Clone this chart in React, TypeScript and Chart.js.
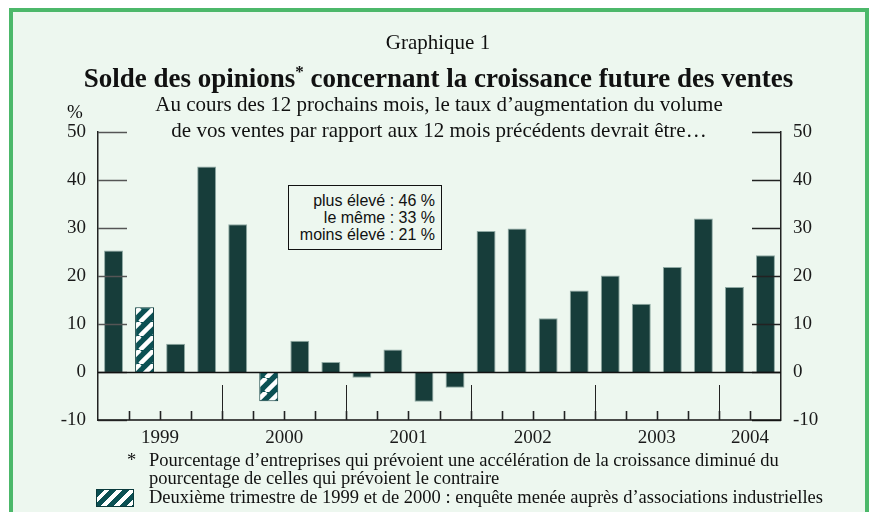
import React, { useEffect, useRef } from "react";
import { Chart, registerables } from "chart.js";

Chart.register(...registerables);

const quarters = [
  "1999 T1", "1999 T2", "1999 T3", "1999 T4",
  "2000 T1", "2000 T2", "2000 T3", "2000 T4",
  "2001 T1", "2001 T2", "2001 T3", "2001 T4",
  "2002 T1", "2002 T2", "2002 T3", "2002 T4",
  "2003 T1", "2003 T2", "2003 T3", "2003 T4",
  "2004 T1", "2004 T2",
];
const values = [
  25.3, 13.5, 5.9, 42.8,
  30.8, -6.1, 6.5, 2.1,
  -1.2, 4.7, -6.2, -3.3,
  29.4, 29.9, 11.2, 17.0,
  20.1, 14.2, 21.9, 32.0,
  17.7, 24.3,
];
const hatchedQuarters = ["1999 T2", "2000 T2"];
const years = ["1999", "2000", "2001", "2002", "2003", "2004"];
const yMin = -10;
const yMax = 50;
const yStep = 10;

const insetLines = ["plus élevé : 46 %", "le même : 33 %", "moins élevé : 21 %"];

const BAR = "#173d3a";
const HATCH = "#0b5053";
const BG = "#edf7ef";
const FRAME = "#4cb86a";
const SERIF = "'Liberation Serif', 'Times New Roman', serif";

function makePattern(ctx: CanvasRenderingContext2D) {
  const c = document.createElement("canvas");
  const s = 14;
  c.width = s;
  c.height = s;
  const g = c.getContext("2d")!;
  g.fillStyle = HATCH;
  g.fillRect(0, 0, s, s);
  g.strokeStyle = "#ffffff";
  g.lineWidth = 4.5;
  for (const o of [-s, 0, s]) {
    g.beginPath();
    g.moveTo(o, s);
    g.lineTo(o + s, 0);
    g.stroke();
  }
  return ctx.createPattern(c, "repeat");
}

const decorPlugin = {
  id: "decor",
  afterDatasetsDraw(chart: any) {
    const { ctx, chartArea } = chart;
    const x = chart.scales.x;
    const y = chart.scales.y;
    const L = chartArea.left;
    const R = chartArea.right;
    const bottom = y.getPixelForValue(yMin);
    ctx.save();
    // inward ticks
    for (let v = yMin; v <= yMax; v += yStep) {
      const py = Math.round(y.getPixelForValue(v)) + 0.5;
      ctx.strokeStyle = "#555";
      ctx.lineWidth = 1.5;
      ctx.beginPath();
      ctx.moveTo(L, py);
      ctx.lineTo(L + 29, py);
      ctx.stroke();
      ctx.strokeStyle = "#222";
      ctx.beginPath();
      ctx.moveTo(R - 29, py);
      ctx.lineTo(R, py);
      ctx.stroke();
    }
    // zero line
    const zy = Math.round(y.getPixelForValue(0)) + 0.5;
    ctx.strokeStyle = "#111";
    ctx.lineWidth = 1.5;
    ctx.beginPath();
    ctx.moveTo(L, zy);
    ctx.lineTo(R, zy);
    ctx.stroke();
    // bottom axis
    ctx.beginPath();
    ctx.moveTo(L, bottom);
    ctx.lineTo(R, bottom);
    ctx.stroke();
    // quarter ticks and year separators
    const n = quarters.length;
    const w = (R - L) / n;
    for (let i = 1; i < n; i++) {
      const px = Math.round(L + i * w) + 0.5;
      const yearBoundary = quarters[i].slice(0, 4) !== quarters[i - 1].slice(0, 4);
      ctx.strokeStyle = "#222";
      if (yearBoundary) {
        ctx.lineWidth = 1;
        ctx.beginPath();
        ctx.moveTo(px, bottom);
        ctx.lineTo(px, bottom - 35);
        ctx.stroke();
      }
      ctx.lineWidth = 1.6;
      ctx.beginPath();
      ctx.moveTo(px, bottom);
      ctx.lineTo(px, bottom - 9);
      ctx.stroke();
    }
    // year labels
    ctx.fillStyle = "#1a1a1a";
    ctx.font = `19px ${SERIF}`;
    ctx.textAlign = "center";
    ctx.textBaseline = "middle";
    for (const yr of years) {
      const idx = quarters.map((q, i) => (q.startsWith(yr) ? i : -1)).filter((i) => i >= 0);
      const a = x.getPixelForValue(idx[0]) - w / 2;
      const b = x.getPixelForValue(idx[idx.length - 1]) + w / 2;
      ctx.fillText(yr, (a + b) / 2, bottom + 18);
    }
    ctx.restore();
  },
};

export default function App() {
  const ref = useRef<HTMLCanvasElement>(null);
  useEffect(() => {
    const canvas = ref.current!;
    const ctx = canvas.getContext("2d")!;
    const pattern = makePattern(ctx);
    const colors = quarters.map((q) => (hatchedQuarters.includes(q) ? pattern : BAR));
    const borders = quarters.map((q) => (hatchedQuarters.includes(q) ? "#0a3a3c" : "#8fa9a3"));
    const tickFont = { family: SERIF, size: 19 };
    const chart = new Chart(ctx, {
      type: "bar",
      data: {
        labels: quarters,
        datasets: [
          {
            data: values,
            backgroundColor: colors as any,
            borderColor: borders,
            borderWidth: 1,
            barPercentage: 0.61,
            categoryPercentage: 1,
          },
        ],
      },
      options: {
        responsive: false,
        animation: false,
        devicePixelRatio: 1,
        layout: { padding: { left: 0, right: 0, top: 132, bottom: 92 } },
        plugins: { legend: { display: false }, tooltip: { enabled: false } },
        scales: {
          x: { display: false },
          y: {
            position: "left",
            min: yMin,
            max: yMax,
            ticks: { stepSize: yStep, padding: 12, color: "#1a1a1a", font: tickFont },
            grid: { display: false, drawTicks: false },
            border: { display: true, color: "#222", width: 1.5 },
            afterFit: (s: any) => {
              s.width = 98;
            },
          },
          y2: {
            position: "right",
            min: yMin,
            max: yMax,
            ticks: { stepSize: yStep, padding: 12, color: "#1a1a1a", font: tickFont },
            grid: { display: false, drawTicks: false },
            border: { display: true, color: "#222", width: 1.5 },
            afterFit: (s: any) => {
              s.width = 88;
            },
          },
        },
      },
      plugins: [decorPlugin],
    });
    return () => chart.destroy();
  }, []);

  const abs: React.CSSProperties = { position: "absolute" };
  return (
    <div style={{ position: "absolute", left: 0, top: 0, width: 869, height: 512, overflow: "hidden", fontFamily: SERIF, color: "#111" }}>
      <div style={{ ...abs, left: 9, top: 8, width: 860, height: 540, boxSizing: "border-box", border: `4px solid ${FRAME}`, background: BG }} />
      <canvas ref={ref} width={869} height={512} style={{ ...abs, left: 0, top: 0, width: 869, height: 512 }} />
      <div style={{ ...abs, left: 0, width: 876, top: 29, textAlign: "center", fontSize: 21, lineHeight: "26px" }}>Graphique 1</div>
      <div style={{ ...abs, left: 0, width: 877, top: 62, textAlign: "center", fontSize: 27, lineHeight: "32px", fontWeight: "bold" }}>
        Solde des opinions<sup style={{ fontSize: 17, lineHeight: 0 }}>*</sup> concernant la croissance future des ventes
      </div>
      <div style={{ ...abs, left: 0, width: 878, top: 91, textAlign: "center", fontSize: 21, lineHeight: "26px" }}>
        Au cours des 12 prochains mois, le taux d’augmentation du volume
        <br />
        de vos ventes par rapport aux 12 mois précédents devrait être…
      </div>
      <div style={{ ...abs, left: 67, top: 101, fontSize: 19, lineHeight: "22px" }}>%</div>
      <div style={{ ...abs, left: 288, top: 185, width: 154, height: 65, boxSizing: "border-box", border: "1.5px solid #111", background: BG, fontFamily: "'Liberation Sans', Arial, sans-serif", fontSize: 16, lineHeight: "17px", textAlign: "right", padding: "6px 6px 0 0" }}>
        {insetLines.map((l) => (
          <div key={l}>{l}</div>
        ))}
      </div>
      <div style={{ ...abs, left: 127, top: 451, fontSize: 18.5, lineHeight: "18px" }}>*</div>
      <div style={{ ...abs, left: 149, top: 452, fontSize: 18.5, lineHeight: "17.5px" }}>
        Pourcentage d’entreprises qui prévoient une accélération de la croissance diminué du
        <br />
        pourcentage de celles qui prévoient le contraire
      </div>
      <div style={{ ...abs, left: 149, top: 488, fontSize: 18.5, lineHeight: "18px" }}>
        Deuxième trimestre de 1999 et de 2000 : enquête menée auprès d’associations industrielles
      </div>
      <div style={{ ...abs, left: 96, top: 489, width: 38, height: 18, boxSizing: "border-box", border: "1px solid #0a3a3c", background: `repeating-linear-gradient(135deg, ${HATCH} 0px, ${HATCH} 5px, #ffffff 5px, #ffffff 9px)` }} />
    </div>
  );
}
